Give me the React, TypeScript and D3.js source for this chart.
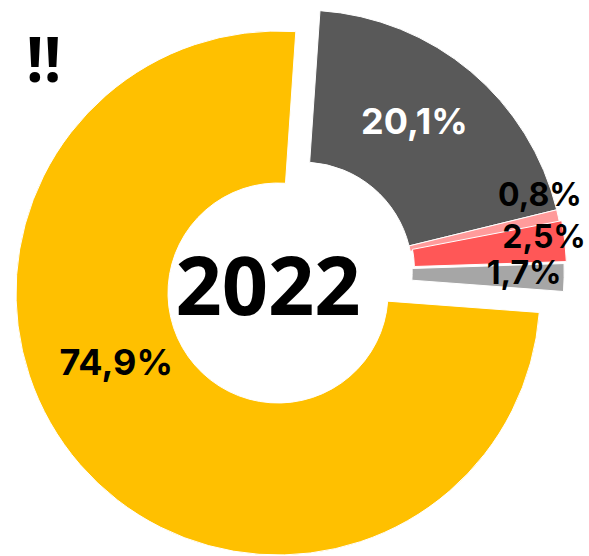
import * as d3 from 'd3'

const labels = ['Dark', 'Pink', 'Red', 'Gray', 'Yellow']
const shares = [20.1, 0.8, 2.5, 1.7, 74.9]
const shareText = ['20,1%', '0,8%', '2,5%', '1,7%', '74,9%']
const colors = ['#595959', '#ff9b9b', '#ff5757', '#a6a6a6', '#ffc000']
const yearLabel = '2022'

const width = 589
const height = 556
const cx = 278
const cy = 293
const outerR = 262
const innerR = 110

// explode distance per slice (the yellow one stays put)
const explode = [32, 32, 35, 32, 0]
// label placement: radius and angle shift relative to the slice mid angle
const labelPos = [
  { r: 188, da: -0.06, size: 36, fill: '#fff' },
  { r: 250, da: -0.1, size: 32, fill: '#000' },
  { r: 242, da: -0.03, size: 32, fill: '#000' },
  { r: 222, da: -0.02, size: 32, fill: '#000' },
  { r: 176, da: 0.31, size: 36, fill: '#000' },
]

export default function App() {
  const start = (3.9 * Math.PI) / 180
  const pie = d3
    .pie<number>()
    .sort(null)
    .value((d) => d)
    .startAngle(start)
    .endAngle(start + 2 * Math.PI)
  const arcs = pie(shares)

  const arc = d3
    .arc<d3.PieArcDatum<number>>()
    .innerRadius(innerR)
    .outerRadius(outerR)

  // the four small slices move out together along their common middle
  const groupMid = (arcs[0].startAngle + arcs[3].endAngle) / 2
  const shift = (i: number) => [
    Math.sin(groupMid) * explode[i],
    -Math.cos(groupMid) * explode[i],
  ]

  return (
    <svg
      width={width}
      height={height}
      style={{ position: 'absolute', left: 0, top: 0, background: '#fff' }}
      fontFamily="Inter, Lato, sans-serif"
    >
      <g transform={`translate(${cx},${cy})`}>
        {arcs.map((a, i) => {
          const [dx, dy] = shift(i)
          return (
            <path
              key={labels[i]}
              d={arc(a) ?? ''}
              transform={`translate(${dx},${dy})`}
              fill={colors[i]}
              stroke="#fff"
              strokeWidth={1}
            />
          )
        })}
        {arcs.map((a, i) => {
          const [dx, dy] = shift(i)
          const p = labelPos[i]
          const ang = (a.startAngle + a.endAngle) / 2 + p.da
          const x = Math.sin(ang) * p.r + dx
          const y = -Math.cos(ang) * p.r + dy
          return (
            <text
              key={'t' + labels[i]}
              x={x}
              y={y}
              textAnchor="middle"
              dominantBaseline="central"
              fontSize={p.size}
              fontWeight={700}
              fill={p.fill}
            >
              {shareText[i]}
            </text>
          )
        })}
        <text
          x={-10}
          y={22}
          textAnchor="middle"
          fontFamily="'Open Sans', 'Noto Sans', sans-serif"
          fontWeight={700}
          fontSize={81}
          fill="#000"
        >
          {yearLabel}
        </text>
      </g>
      <text
        x={26}
        y={82}
        fontFamily="'Open Sans', 'Noto Sans', sans-serif"
        fontWeight={700}
        fontSize={62}
        fill="#000"
      >
        !!
      </text>
    </svg>
  )
}
